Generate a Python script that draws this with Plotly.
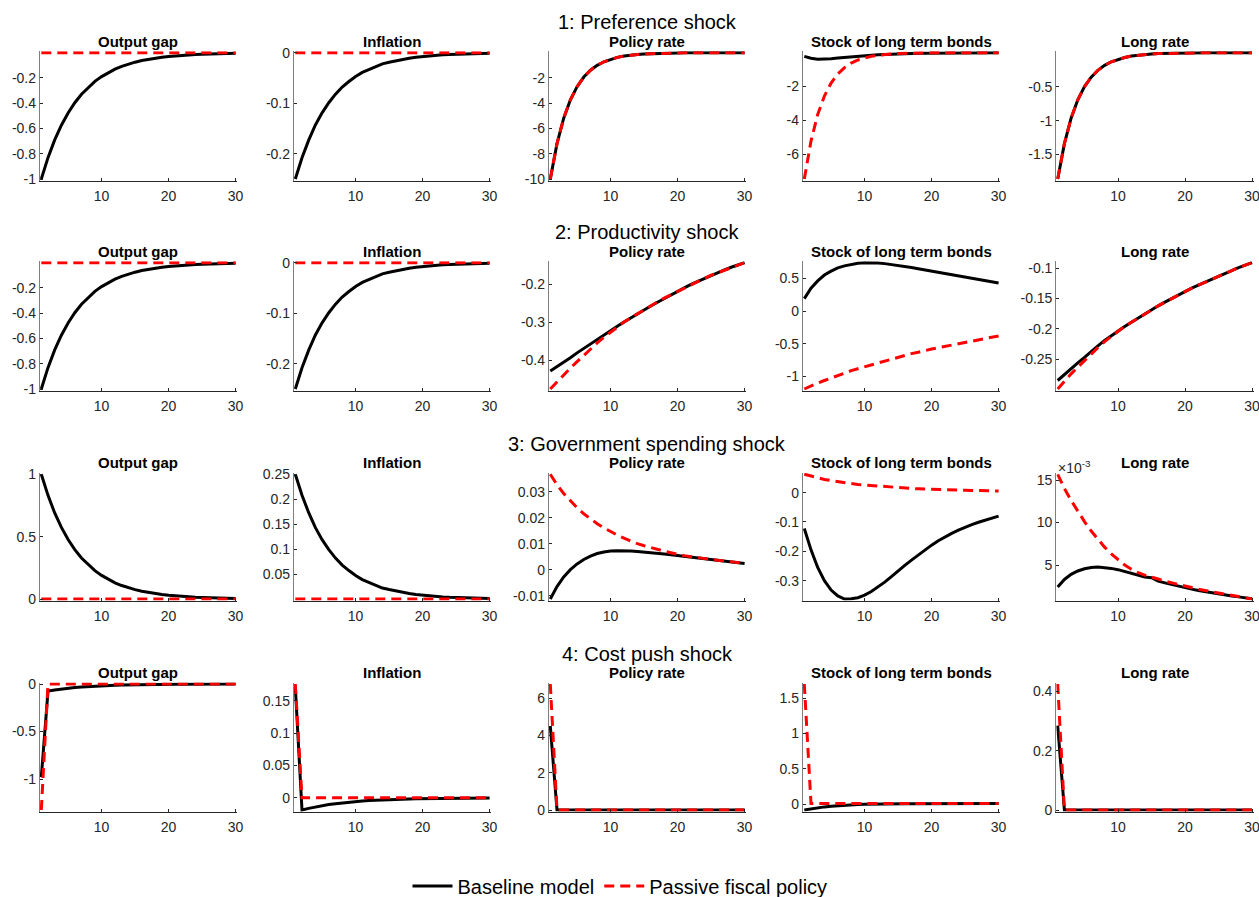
import plotly.graph_objects as go

periods = list(range(1, 31))

# ---------------- 1: Preference shock ----------------
pref_y_base = [-1.000, -0.831, -0.690, -0.574, -0.477, -0.396, -0.329, -0.274, -0.227, -0.189,
               -0.157, -0.130, -0.108, -0.090, -0.075, -0.062, -0.052, -0.043, -0.036, -0.030,
               -0.025, -0.020, -0.017, -0.014, -0.012, -0.010, -0.008, -0.007, -0.006, -0.005]
pref_y_pass = [0.0, 0.0, 0.0, 0.0, 0.0, 0.0, 0.0, 0.0, 0.0, 0.0, 0.0, 0.0, 0.0, 0.0, 0.0,
               0.0, 0.0, 0.0, 0.0, 0.0, 0.0, 0.0, 0.0, 0.0, 0.0, 0.0, 0.0, 0.0, 0.0, 0.0]
pref_pi_base = [-0.250, -0.208, -0.173, -0.143, -0.119, -0.099, -0.082, -0.068, -0.057, -0.047,
                -0.039, -0.033, -0.027, -0.022, -0.019, -0.016, -0.013, -0.011, -0.009, -0.0075,
                -0.006, -0.005, -0.0042, -0.0035, -0.003, -0.0025, -0.002, -0.0017, -0.0014, -0.0012]
pref_pi_pass = [0.0, 0.0, 0.0, 0.0, 0.0, 0.0, 0.0, 0.0, 0.0, 0.0, 0.0, 0.0, 0.0, 0.0, 0.0,
                0.0, 0.0, 0.0, 0.0, 0.0, 0.0, 0.0, 0.0, 0.0, 0.0, 0.0, 0.0, 0.0, 0.0, 0.0]
pref_i_base = [-10.0, -7.2, -5.18, -3.73, -2.69, -1.93, -1.39, -1.0, -0.72, -0.52,
               -0.37, -0.27, -0.19, -0.14, -0.10, -0.072, -0.052, -0.037, -0.027, -0.019,
               -0.014, -0.010, -0.007, -0.005, -0.004, -0.003, -0.002, -0.0014, -0.001, -0.0007]
pref_i_pass = [-10.0, -7.2, -5.18, -3.73, -2.69, -1.93, -1.39, -1.0, -0.72, -0.52,
               -0.37, -0.27, -0.19, -0.14, -0.10, -0.072, -0.052, -0.037, -0.027, -0.019,
               -0.014, -0.010, -0.007, -0.005, -0.004, -0.003, -0.002, -0.0014, -0.001, -0.0007]
pref_b_base = [-0.22, -0.33, -0.38, -0.38, -0.36, -0.32, -0.28, -0.24, -0.20, -0.17,
               -0.14, -0.12, -0.10, -0.08, -0.065, -0.053, -0.043, -0.035, -0.028, -0.023,
               -0.018, -0.015, -0.012, -0.010, -0.008, -0.006, -0.005, -0.004, -0.003, -0.002]
pref_b_pass = [-7.46, -5.22, -3.65, -2.56, -1.79, -1.25, -0.88, -0.61, -0.43, -0.30,
               -0.21, -0.15, -0.10, -0.072, -0.050, -0.035, -0.025, -0.017, -0.012, -0.0085,
               -0.006, -0.004, -0.003, -0.002, -0.0015, -0.001, -0.0007, -0.0005, -0.0003, -0.0002]
pref_r_base = [-1.86, -1.34, -0.964, -0.694, -0.50, -0.36, -0.259, -0.187, -0.134, -0.097,
               -0.070, -0.050, -0.036, -0.026, -0.019, -0.013, -0.010, -0.007, -0.005, -0.0036,
               -0.0026, -0.0019, -0.0014, -0.001, -0.0007, -0.0005, -0.0004, -0.0003, -0.0002, -0.0001]
pref_r_pass = [-1.86, -1.34, -0.964, -0.694, -0.50, -0.36, -0.259, -0.187, -0.134, -0.097,
               -0.070, -0.050, -0.036, -0.026, -0.019, -0.013, -0.010, -0.007, -0.005, -0.0036,
               -0.0026, -0.0019, -0.0014, -0.001, -0.0007, -0.0005, -0.0004, -0.0003, -0.0002, -0.0001]

# ---------------- 2: Productivity shock ----------------
prod_y_base = [-1.000, -0.831, -0.690, -0.574, -0.477, -0.396, -0.329, -0.274, -0.227, -0.189,
               -0.157, -0.130, -0.108, -0.090, -0.075, -0.062, -0.052, -0.043, -0.036, -0.030,
               -0.025, -0.020, -0.017, -0.014, -0.012, -0.010, -0.008, -0.007, -0.006, -0.005]
prod_y_pass = pref_y_pass
prod_pi_base = [-0.250, -0.208, -0.173, -0.143, -0.119, -0.099, -0.082, -0.068, -0.057, -0.047,
                -0.039, -0.033, -0.027, -0.022, -0.019, -0.016, -0.013, -0.011, -0.009, -0.0075,
                -0.006, -0.005, -0.0042, -0.0035, -0.003, -0.0025, -0.002, -0.0017, -0.0014, -0.0012]
prod_pi_pass = pref_pi_pass
prod_i_base = [-0.429, -0.418, -0.406, -0.394, -0.381, -0.369, -0.357, -0.345, -0.333, -0.322,
               -0.311, -0.300, -0.289, -0.279, -0.268, -0.258, -0.248, -0.238, -0.228, -0.219,
               -0.210, -0.201, -0.193, -0.185, -0.177, -0.170, -0.163, -0.156, -0.150, -0.144]
prod_i_pass = [-0.476, -0.457, -0.439, -0.421, -0.404, -0.387, -0.371, -0.355, -0.340, -0.326,
               -0.313, -0.300, -0.289, -0.278, -0.267, -0.257, -0.247, -0.237, -0.228, -0.219,
               -0.210, -0.201, -0.193, -0.185, -0.177, -0.170, -0.163, -0.156, -0.150, -0.144]
prod_b_base = [0.19, 0.35, 0.46, 0.55, 0.61, 0.66, 0.69, 0.715, 0.73, 0.738,
               0.738, 0.733, 0.724, 0.712, 0.698, 0.682, 0.665, 0.647, 0.628, 0.609,
               0.590, 0.571, 0.552, 0.533, 0.515, 0.497, 0.479, 0.462, 0.445, 0.428]
prod_b_pass = [-1.19, -1.14, -1.10, -1.06, -1.02, -0.98, -0.95, -0.91, -0.88, -0.85,
               -0.82, -0.79, -0.76, -0.73, -0.70, -0.68, -0.65, -0.63, -0.60, -0.58,
               -0.56, -0.54, -0.52, -0.50, -0.48, -0.46, -0.44, -0.42, -0.40, -0.38]
prod_r_base = [-0.285, -0.275, -0.266, -0.256, -0.247, -0.237, -0.228, -0.219, -0.211, -0.203,
               -0.196, -0.189, -0.182, -0.175, -0.168, -0.162, -0.156, -0.150, -0.144, -0.138,
               -0.133, -0.128, -0.123, -0.118, -0.113, -0.108, -0.104, -0.099, -0.095, -0.091]
prod_r_pass = [-0.299, -0.286, -0.274, -0.263, -0.252, -0.241, -0.231, -0.221, -0.212, -0.204,
               -0.196, -0.189, -0.182, -0.175, -0.168, -0.162, -0.156, -0.150, -0.144, -0.138,
               -0.133, -0.128, -0.123, -0.118, -0.113, -0.108, -0.104, -0.099, -0.095, -0.091]

# ---------------- 3: Government spending shock ----------------
gov_y_base = [1.000, 0.831, 0.690, 0.574, 0.477, 0.396, 0.329, 0.274, 0.227, 0.189,
              0.157, 0.130, 0.108, 0.090, 0.075, 0.062, 0.052, 0.043, 0.036, 0.030,
              0.025, 0.020, 0.017, 0.014, 0.012, 0.010, 0.008, 0.007, 0.006, 0.005]
gov_y_pass = pref_y_pass
gov_pi_base = [0.250, 0.208, 0.173, 0.143, 0.119, 0.099, 0.082, 0.068, 0.057, 0.047,
               0.039, 0.033, 0.027, 0.022, 0.019, 0.016, 0.013, 0.011, 0.009, 0.0075,
               0.006, 0.005, 0.0042, 0.0035, 0.003, 0.0025, 0.002, 0.0017, 0.0014, 0.0012]
gov_pi_pass = pref_pi_pass
gov_i_base = [-0.0113, -0.0065, -0.0028, 0.0000, 0.0022, 0.0039, 0.0052, 0.0062, 0.0068, 0.0072,
              0.0073, 0.0073, 0.0072, 0.0070, 0.0068, 0.0066, 0.0063, 0.0060, 0.0057, 0.0054,
              0.0051, 0.0048, 0.0045, 0.0042, 0.0039, 0.0036, 0.0033, 0.0030, 0.0027, 0.0024]
gov_i_pass = [0.0367, 0.0327, 0.0293, 0.0264, 0.0238, 0.0215, 0.0195, 0.0177, 0.0161, 0.0146,
              0.0133, 0.0121, 0.0110, 0.0100, 0.0092, 0.0084, 0.0077, 0.0071, 0.0065, 0.0059,
              0.0054, 0.0050, 0.0046, 0.0042, 0.0039, 0.0036, 0.0033, 0.0030, 0.0027, 0.0025]
gov_b_base = [-0.122, -0.195, -0.255, -0.300, -0.332, -0.352, -0.3625, -0.362, -0.358, -0.349,
              -0.337, -0.322, -0.305, -0.286, -0.266, -0.248, -0.230, -0.212, -0.195, -0.179,
              -0.164, -0.151, -0.139, -0.128, -0.118, -0.109, -0.101, -0.094, -0.087, -0.080]
gov_b_pass = [0.0625, 0.056, 0.050, 0.045, 0.041, 0.037, 0.034, 0.031, 0.028, 0.026,
              0.024, 0.022, 0.020, 0.018, 0.017, 0.015, 0.014, 0.013, 0.012, 0.011,
              0.010, 0.0095, 0.009, 0.0085, 0.008, 0.0075, 0.007, 0.0065, 0.006, 0.0057]
gov_r_base = [0.0024, 0.0033, 0.0039, 0.0043, 0.00455, 0.0047, 0.00475, 0.0047, 0.0046, 0.00445,
              0.00425, 0.00405, 0.00382, 0.0036, 0.0035, 0.0031, 0.0029, 0.0027, 0.0025, 0.00232,
              0.00216, 0.0020, 0.00186, 0.00173, 0.0016, 0.00148, 0.00136, 0.00125, 0.00113, 0.00102]
gov_r_pass = [0.01567, 0.0140, 0.0126, 0.0113, 0.0101, 0.0090, 0.0080, 0.0071, 0.0063, 0.0056,
              0.0050, 0.0045, 0.0041, 0.0038, 0.0036, 0.00335, 0.0031, 0.0029, 0.0027, 0.0025,
              0.00232, 0.00215, 0.0020, 0.00185, 0.0017, 0.00157, 0.00144, 0.0013, 0.00115, 0.0010]

# ---------------- 4: Cost push shock ----------------
cost_y_base = [-0.98, -0.075, -0.063, -0.053, -0.045, -0.038, -0.032, -0.027, -0.022, -0.019,
               -0.016, -0.013, -0.011, -0.009, -0.008, -0.0065, -0.0055, -0.0045, -0.004, -0.003,
               -0.0025, -0.002, -0.0018, -0.0015, -0.0012, -0.001, -0.0008, -0.0007, -0.0006, -0.0005]
cost_y_pass = [-1.325, 0.0, 0.0, 0.0, 0.0, 0.0, 0.0, 0.0, 0.0, 0.0, 0.0, 0.0, 0.0, 0.0, 0.0,
               0.0, 0.0, 0.0, 0.0, 0.0, 0.0, 0.0, 0.0, 0.0, 0.0, 0.0, 0.0, 0.0, 0.0, 0.0]
cost_pi_base = [0.172, -0.019, -0.0165, -0.0143, -0.0123, -0.0106, -0.0092, -0.0079, -0.0068, -0.0059,
                -0.0051, -0.0044, -0.0038, -0.0033, -0.0028, -0.0024, -0.0021, -0.0018, -0.0015, -0.0013,
                -0.0011, -0.0010, -0.0008, -0.0007, -0.0006, -0.0005, -0.0004, -0.0004, -0.0003, -0.0003]
cost_pi_pass = [0.176, 0.0, 0.0, 0.0, 0.0, 0.0, 0.0, 0.0, 0.0, 0.0, 0.0, 0.0, 0.0, 0.0, 0.0,
                0.0, 0.0, 0.0, 0.0, 0.0, 0.0, 0.0, 0.0, 0.0, 0.0, 0.0, 0.0, 0.0, 0.0, 0.0]
cost_i_base = [4.5, 0.0, 0.0, 0.0, 0.0, 0.0, 0.0, 0.0, 0.0, 0.0, 0.0, 0.0, 0.0, 0.0, 0.0,
               0.0, 0.0, 0.0, 0.0, 0.0, 0.0, 0.0, 0.0, 0.0, 0.0, 0.0, 0.0, 0.0, 0.0, 0.0]
cost_i_pass = [6.75, 0.0, 0.0, 0.0, 0.0, 0.0, 0.0, 0.0, 0.0, 0.0, 0.0, 0.0, 0.0, 0.0, 0.0,
               0.0, 0.0, 0.0, 0.0, 0.0, 0.0, 0.0, 0.0, 0.0, 0.0, 0.0, 0.0, 0.0, 0.0, 0.0]
cost_b_base = [-0.080, -0.062, -0.048, -0.036, -0.026, -0.018, -0.012, -0.007, -0.003, 0.000,
               0.003, 0.005, 0.006, 0.007, 0.008, 0.009, 0.0095, 0.010, 0.0105, 0.011,
               0.011, 0.0115, 0.0115, 0.012, 0.012, 0.012, 0.012, 0.012, 0.012, 0.012]
cost_b_pass = [1.70, 0.012, 0.012, 0.012, 0.012, 0.012, 0.012, 0.012, 0.012, 0.012,
               0.012, 0.012, 0.012, 0.012, 0.012, 0.012, 0.012, 0.012, 0.012, 0.012,
               0.012, 0.012, 0.012, 0.012, 0.012, 0.012, 0.012, 0.012, 0.012, 0.012]
cost_r_base = [0.285, 0.0, 0.0, 0.0, 0.0, 0.0, 0.0, 0.0, 0.0, 0.0, 0.0, 0.0, 0.0, 0.0, 0.0,
               0.0, 0.0, 0.0, 0.0, 0.0, 0.0, 0.0, 0.0, 0.0, 0.0, 0.0, 0.0, 0.0, 0.0, 0.0]
cost_r_pass = [0.425, 0.0, 0.0, 0.0, 0.0, 0.0, 0.0, 0.0, 0.0, 0.0, 0.0, 0.0, 0.0, 0.0, 0.0,
               0.0, 0.0, 0.0, 0.0, 0.0, 0.0, 0.0, 0.0, 0.0, 0.0, 0.0, 0.0, 0.0, 0.0, 0.0]

shock_titles = ["1: Preference shock", "2: Productivity shock",
                "3: Government spending shock", "4: Cost push shock"]
panel_titles = ["Output gap", "Inflation", "Policy rate", "Stock of long term bonds", "Long rate"]
legend_names = ["Baseline model", "Passive fiscal policy"]
x_ticks = [10, 20, 30]

series = [
    [(pref_y_base, pref_y_pass), (pref_pi_base, pref_pi_pass), (pref_i_base, pref_i_pass),
     (pref_b_base, pref_b_pass), (pref_r_base, pref_r_pass)],
    [(prod_y_base, prod_y_pass), (prod_pi_base, prod_pi_pass), (prod_i_base, prod_i_pass),
     (prod_b_base, prod_b_pass), (prod_r_base, prod_r_pass)],
    [(gov_y_base, gov_y_pass), (gov_pi_base, gov_pi_pass), (gov_i_base, gov_i_pass),
     (gov_b_base, gov_b_pass), (gov_r_base, gov_r_pass)],
    [(cost_y_base, cost_y_pass), (cost_pi_base, cost_pi_pass), (cost_i_base, cost_i_pass),
     (cost_b_base, cost_b_pass), (cost_r_base, cost_r_pass)],
]

y_ticks = [
    [[-1, -0.8, -0.6, -0.4, -0.2], [-0.2, -0.1, 0], [-10, -8, -6, -4, -2], [-6, -4, -2], [-1.5, -1, -0.5]],
    [[-1, -0.8, -0.6, -0.4, -0.2], [-0.2, -0.1, 0], [-0.4, -0.3, -0.2], [-1, -0.5, 0, 0.5], [-0.25, -0.2, -0.15, -0.1]],
    [[0, 0.5, 1], [0.05, 0.1, 0.15, 0.2, 0.25], [-0.01, 0, 0.01, 0.02, 0.03], [-0.3, -0.2, -0.1, 0], [0.005, 0.01, 0.015]],
    [[-1, -0.5, 0], [0, 0.05, 0.1, 0.15], [0, 2, 4, 6], [0, 0.5, 1, 1.5], [0, 0.2, 0.4]],
]

# ---------------- layout geometry (pixels) ----------------
W, H = 1259, 897
col_left = [41.3, 295.3, 550.3, 804.3, 1057.7]
col_w = 194.3
row_top = [52.7, 262.7, 474.3, 684.0]
row_bot = [179.0, 389.0, 599.0, 810.0]
PAD = 1.5  # px of breathing room so lines on the data limits are not half clipped

FONT = "Liberation Sans, Arial, Helvetica, sans-serif"
AX_COL = "#262626"

fig = go.Figure()
layout = dict(
    width=W, height=H, margin=dict(l=0, r=0, t=0, b=0, autoexpand=False),
    paper_bgcolor="white", plot_bgcolor="white",
    font=dict(family=FONT, color=AX_COL),
    showlegend=True,
    legend=dict(orientation="h", x=620 / W, xanchor="center", y=1 - 886 / H, yanchor="middle",
                font=dict(size=20, color="black", family=FONT), bgcolor="rgba(0,0,0,0)",
                itemwidth=40, tracegroupgap=0),
)
annotations = []

for r in range(4):
    for c in range(5):
        k = r * 5 + c + 1
        xa = "x" if k == 1 else f"x{k}"
        ya = "y" if k == 1 else f"y{k}"
        base, pas = series[r][c]
        fig.add_trace(go.Scatter(x=periods, y=base, xaxis=xa, yaxis=ya, mode="lines",
                                 line=dict(color="black", width=3),
                                 name=legend_names[0], legendgroup="base",
                                 showlegend=(k == 1), hoverinfo="skip"))
        fig.add_trace(go.Scatter(x=periods, y=pas, xaxis=xa, yaxis=ya, mode="lines",
                                 line=dict(color="#ff0000", width=3, dash="10px,6px"),
                                 name=legend_names[1], legendgroup="pass",
                                 showlegend=(k == 1), hoverinfo="skip"))
        lo = min(min(base), min(pas))
        hi = max(max(base), max(pas))
        ph = row_bot[r] - row_top[r]
        ypad = (hi - lo) * PAD / ph
        xpad = 29 * PAD / col_w
        x0 = (col_left[c] - PAD) / W
        x1 = (col_left[c] + col_w + PAD) / W
        y0 = 1 - (row_bot[r] + PAD) / H
        y1 = 1 - (row_top[r] - PAD) / H
        tv = y_ticks[r][c]
        if r == 2 and c == 4:
            tt = [f"{v * 1000:g}" for v in tv]
        else:
            tt = [f"{v:g}" for v in tv]
        xkey = "xaxis" if k == 1 else f"xaxis{k}"
        ykey = "yaxis" if k == 1 else f"yaxis{k}"
        layout[xkey] = dict(domain=[x0, x1], anchor=ya, range=[1 - xpad, 30 + xpad],
                            tickvals=x_ticks, ticktext=[str(v) for v in x_ticks],
                            ticks="inside", ticklen=3, tickcolor=AX_COL, tickwidth=1,
                            showline=True, linecolor=AX_COL, linewidth=1, mirror=False,
                            showgrid=False, zeroline=False, fixedrange=True,
                            tickfont=dict(size=14, color=AX_COL, family=FONT),
                            ticklabelstandoff=3, ticklabeloverflow="allow")
        layout[ykey] = dict(domain=[y0, y1], anchor=xa, range=[lo - ypad, hi + ypad],
                            tickvals=tv, ticktext=tt,
                            ticks="inside", ticklen=3, tickcolor=AX_COL, tickwidth=1,
                            showline=True, linecolor="#7f7f7f", linewidth=1, mirror=False,
                            showgrid=False, zeroline=False, fixedrange=True,
                            tickfont=dict(size=14, color=AX_COL, family=FONT),
                            ticklabelstandoff=0, ticklabeloverflow="allow")
        annotations.append(dict(text=f"<b>{panel_titles[c]}</b>", xref="paper", yref="paper",
                                x=(col_left[c] + col_w / 2) / W, y=1 - (row_top[r] - 11.5) / H,
                                xanchor="center", yanchor="middle", showarrow=False,
                                font=dict(size=15, color="black", family=FONT)))
    annotations.append(dict(text=shock_titles[r], xref="paper", yref="paper",
                            x=(col_left[2] + col_w / 2) / W, y=1 - (row_top[r] - 30.5) / H,
                            xanchor="center", yanchor="middle", showarrow=False,
                            font=dict(size=20, color="black", family=FONT)))

# exponent label for the government spending / long rate panel
annotations.append(dict(text="×10<sup>-3</sup>", xref="paper", yref="paper",
                        x=1056.0 / W, y=1 - 478.0 / H, xanchor="left", yanchor="bottom",
                        showarrow=False, font=dict(size=14, color=AX_COL, family=FONT)))

layout["annotations"] = annotations
fig.update_layout(**layout)
fig.write_html("out.html", config={"displayModeBar": False},
               post_script="document.body.style.margin='0px';document.body.style.overflow='hidden';")
